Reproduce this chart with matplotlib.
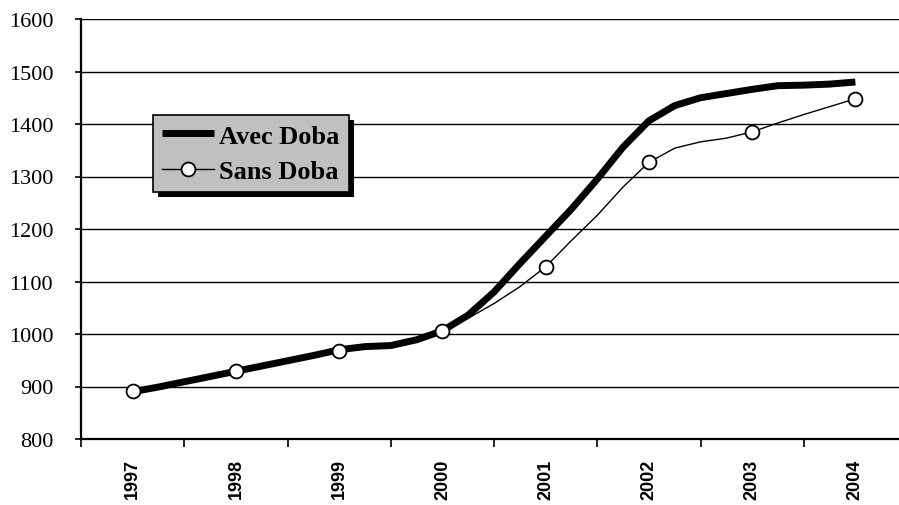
import numpy as np
import matplotlib
matplotlib.use('Agg')
import matplotlib.pyplot as plt
from matplotlib.patches import Rectangle

years = ['1997', '1998', '1999', '2000', '2001', '2002', '2003', '2004']

# quarterly values, 1997 -> 2004
avec_doba = [890, 899, 909, 919, 929, 939, 949, 959,
             970, 976, 978, 989, 1006, 1036, 1080, 1134,
             1186, 1238, 1295, 1356, 1406, 1435, 1450, 1458,
             1466, 1473, 1474, 1476, 1480]
sans_doba = [892, 901, 911, 920, 929, 939, 949, 959,
             968, 974, 977, 987, 1005, 1030, 1058, 1090,
             1128, 1178, 1226, 1280, 1327, 1354, 1366, 1373,
             1385, 1402, 1418, 1433, 1448]

t = np.arange(len(avec_doba)) / 4.0

fig = plt.figure(figsize=(8.99, 5.06), dpi=100)
ax = fig.add_axes([81/899, 66/506, 826/899, 420/506])

ax.set_ylim(800, 1600)
ax.set_yticks(np.arange(800, 1601, 100))
ax.yaxis.grid(True, color='black', lw=1.0)
ax.set_axisbelow(True)

ax.set_xlim(-0.5, 7.5)
ax.set_xticks(np.arange(-0.5, 7.0, 1.0))
ax.set_xticklabels([])
ax.set_xticks(np.arange(8), minor=True)
ax.set_xticklabels(years, minor=True, rotation=90, fontsize=13,
                   family='Liberation Sans', weight='bold')
ax.tick_params(axis='x', which='minor', length=0, pad=14)
ax.tick_params(axis='x', which='major', length=6, width=1.2, direction='out')
ax.tick_params(axis='y', length=4, width=1.2, direction='out', pad=16)
for lab in ax.get_yticklabels():
    lab.set_family('Liberation Serif')
    lab.set_fontsize(16)

for s in ['top', 'right']:
    ax.spines[s].set_visible(False)
for s in ['left', 'bottom']:
    ax.spines[s].set_linewidth(1.6)

ax.plot(t, avec_doba, color='black', lw=5, solid_capstyle='butt',
        label='Avec Doba', zorder=3)
ax.plot(t, sans_doba, color='black', lw=1.0, marker='o', markevery=4,
        markersize=10, markerfacecolor='white', markeredgecolor='black',
        markeredgewidth=1.3, label='Sans Doba', zorder=4)

leg = ax.legend(loc='upper left', bbox_to_anchor=(153/899, 1-116/506),
                bbox_transform=fig.transFigure, borderaxespad=0,
                fancybox=False, framealpha=1, facecolor='#c0c0c0',
                edgecolor='black', handlelength=1.95, handletextpad=0.2,
                labelspacing=0.45, borderpad=0.35,
                prop={'family': 'Liberation Serif', 'weight': 'bold', 'size': 19})
leg.get_frame().set_linewidth(1.2)
leg.set_zorder(10)

fig.canvas.draw()
bb = leg.get_window_extent()
shadow = Rectangle((bb.x0 + 5, bb.y0 - 5), bb.width, bb.height,
                   transform=None, facecolor='black', edgecolor='none',
                   zorder=9, clip_on=False)
ax.add_artist(shadow)

fig.savefig('out.png', dpi=100)
